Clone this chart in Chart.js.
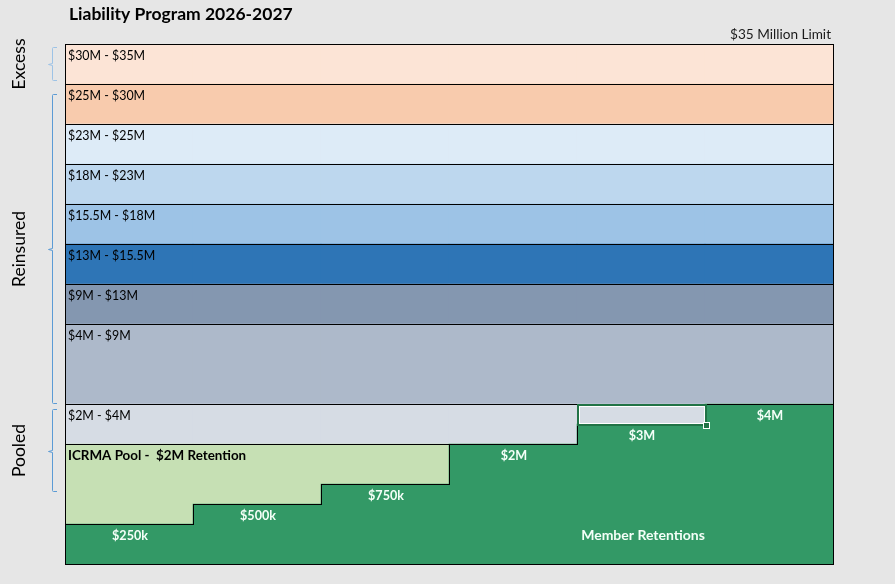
<!DOCTYPE html>
<html><head><meta charset="utf-8">
<script src="https://cdn.jsdelivr.net/npm/chart.js@4"></script>
<style>
html,body{margin:0;padding:0;background:#e6e6e6;overflow:hidden}
#wrap{width:895px;height:584px;position:relative}
</style>
</head><body>
<div id="wrap"><canvas id="c"></canvas></div>
<script>
// ---- data ----
const tierColumns = ['Tier A','Tier B','Tier C','Tier D','Tier E','Tier F'];
const retentionLabels = ['$250k','$500k','$750k','$2M','$3M','$4M'];
// band heights in drawn row units (the program diagram is not to dollar scale)
const memberRetentions = [1, 1.5, 2, 3, 3.5, 4];
const icrmaPool        = [2, 1.5, 1, 0, 0, 0];
const layer2to4        = [1, 1, 1, 1, 0.5, 0];
const layer4to9        = [2, 2, 2, 2, 2, 2];
const layer9to13       = [1, 1, 1, 1, 1, 1];
const layer13to155     = [1, 1, 1, 1, 1, 1];
const layer155to18     = [1, 1, 1, 1, 1, 1];
const layer18to23      = [1, 1, 1, 1, 1, 1];
const layer23to25      = [1, 1, 1, 1, 1, 1];
const layer25to30      = [1, 1, 1, 1, 1, 1];
const layer30to35      = [1, 1, 1, 1, 1, 1];
const layerNames = ['Member Retentions','ICRMA Pool -  $2M Retention','$2M - $4M','$4M - $9M','$9M - $13M',
  '$13M - $15.5M','$15.5M - $18M','$18M - $23M','$23M - $25M','$25M - $30M','$30M - $35M'];
const layerColors = ['#339966','#c6e0b4','#d6dce4','#adb9ca','#8497b0','#2e75b6','#9dc3e6','#bdd7ee','#ddebf7','#f8cbad','#fce4d6'];
const groupNames = ['Excess','Reinsured','Pooled'];
const groupSpans = [[12.1, 12.925],[4.025, 11.75],[1.825, 3.875]];
const groupColors = ['#9dc3e6','#5b9bd5','#5b9bd5'];
const chartTitle = 'Liability Program 2026-2027';
const limitNote = '$35 Million Limit';
const yMax = 13;

const FONT = 'Lato, "Open Sans", sans-serif';
const layerValues = [memberRetentions, icrmaPool, layer2to4, layer4to9, layer9to13, layer13to155,
  layer155to18, layer18to23, layer23to25, layer25to30, layer30to35];

function barRect(b){
  const p = b.getProps(['x','y','base','width'], true);
  return {l: p.x - p.width/2, r: p.x + p.width/2, t: Math.min(p.y, p.base), b: Math.max(p.y, p.base)};
}
const px = v => Math.round(v) + 0.5;

const outlinePlugin = {
  id: 'outlines',
  beforeDraw(chart){
    const ctx = chart.ctx;
    ctx.save(); ctx.fillStyle = '#e6e6e6'; ctx.fillRect(0,0,chart.width,chart.height); ctx.restore();
  },
  afterDatasetsDraw(chart){
    const ctx = chart.ctx;
    ctx.save();
    ctx.strokeStyle = '#000'; ctx.lineWidth = 1; ctx.lineCap = 'square';
    chart.data.datasets.forEach((ds, di) => {
      const bars = chart.getDatasetMeta(di).data.map(barRect);
      ctx.beginPath();
      bars.forEach(r => {
        if (r.b - r.t < 0.5) return;
        ctx.moveTo(px(r.l), px(r.t)); ctx.lineTo(px(r.r), px(r.t));
        ctx.moveTo(px(r.l), px(r.b)); ctx.lineTo(px(r.r), px(r.b));
      });
      for (let i = 0; i <= bars.length; i++){
        const A = i > 0 ? bars[i-1] : null, B = i < bars.length ? bars[i] : null;
        const x = B ? B.l : A.r;
        const aOk = A && A.b - A.t >= 0.5, bOk = B && B.b - B.t >= 0.5;
        const pts = [];
        if (aOk) pts.push(A.t, A.b);
        if (bOk) pts.push(B.t, B.b);
        pts.sort((m,n)=>m-n);
        for (let k = 0; k < pts.length - 1; k++){
          const p = pts[k], q = pts[k+1];
          if (q - p < 0.5) continue;
          const mid = (p+q)/2;
          const inA = aOk && A.t < mid && mid < A.b;
          const inB = bOk && B.t < mid && mid < B.b;
          if (inA !== inB){ ctx.moveTo(px(x), px(p)); ctx.lineTo(px(x), px(q)); }
        }
      }
      ctx.stroke();
    });
    // selected cell highlight on the partial $2M-$4M block
    const sel = barRect(chart.getDatasetMeta(2).data[4]);
    const L = Math.round(sel.l), T = Math.round(sel.t), R = Math.round(sel.r), Bt = Math.round(sel.b);
    ctx.lineCap = 'butt';
    ctx.strokeStyle = '#217346'; ctx.lineWidth = 2;
    ctx.strokeRect(L + 1, T + 1, R - L, Bt - T);
    ctx.strokeStyle = '#ffffff'; ctx.lineWidth = 1;
    ctx.strokeRect(L + 2.5, T + 2.5, R - L - 3, Bt - T - 3);
    ctx.fillStyle = '#ffffff'; ctx.fillRect(R - 2, Bt - 2, 7, 7);
    ctx.fillStyle = '#217346'; ctx.fillRect(R - 1, Bt - 1, 5, 5);
    ctx.restore();
  },
  afterDraw(chart){
    const ctx = chart.ctx, ca = chart.chartArea, ys = chart.scales.y;
    ctx.save();
    ctx.textBaseline = 'middle';
    // band labels
    for (let di = 1; di < layerNames.length; di++){
      const bars = chart.getDatasetMeta(di).data.map(barRect);
      const r = bars[0];
      ctx.fillStyle = '#000';
      ctx.font = (di === 1 ? 'bold 13.4px ' : '12.4px ') + FONT;
      ctx.textAlign = 'left';
      ctx.fillText(layerNames[di], r.l + 3, r.t + 11.5);
    }
    // member retention labels
    const greens = chart.getDatasetMeta(0).data.map(barRect);
    ctx.fillStyle = '#f4fff8'; ctx.font = 'bold 12.6px ' + FONT; ctx.textAlign = 'center';
    greens.forEach((r, i) => ctx.fillText(retentionLabels[i], (r.l + r.r)/2 + 1, r.t + 11.5));
    ctx.font = 'bold 14px ' + FONT;
    ctx.fillText(layerNames[0], (greens[4].l + greens[4].r)/2 + 2, ys.getPixelForValue(memberRetentions[0]) + 11.5);
    // title & limit
    ctx.fillStyle = '#000'; ctx.textAlign = 'left'; ctx.font = 'bold 17.5px ' + FONT;
    ctx.fillText(chartTitle, ca.left + 4, 14);
    ctx.fillStyle = '#1a1a1a'; ctx.textAlign = 'right'; ctx.font = '13.6px ' + FONT;
    ctx.fillText(limitNote, ca.right - 2, ca.top - 9);
    // group brackets and labels
    groupNames.forEach((g, i) => {
      const top = Math.round(ys.getPixelForValue(groupSpans[i][1])) + 0.5;
      const bot = Math.round(ys.getPixelForValue(groupSpans[i][0])) + 0.5;
      const mid = Math.round((top + bot)/2) + 0.5;
      const xl = ca.left - 12.5;
      ctx.strokeStyle = groupColors[i]; ctx.lineWidth = 1;
      ctx.beginPath();
      ctx.moveTo(xl + 4.5, top); ctx.lineTo(xl + 1, top); ctx.quadraticCurveTo(xl, top, xl, top + 1);
      ctx.lineTo(xl, mid - 1); ctx.lineTo(xl - 4, mid); ctx.lineTo(xl, mid + 1);
      ctx.lineTo(xl, bot - 1); ctx.quadraticCurveTo(xl, bot, xl + 1, bot); ctx.lineTo(xl + 4.5, bot);
      ctx.stroke();
      ctx.save();
      ctx.translate(19.5, (top + bot)/2);
      ctx.rotate(-Math.PI/2);
      ctx.fillStyle = '#000'; ctx.textAlign = 'center'; ctx.font = '17.5px ' + FONT;
      ctx.fillText(g, 0, 0);
      ctx.restore();
    });
    ctx.restore();
  }
};

new Chart(document.getElementById('c'), {
  type: 'bar',
  data: {
    labels: tierColumns,
    datasets: layerValues.map((vals, i) => ({
      label: layerNames[i],
      data: vals,
      backgroundColor: layerColors[i],
      borderWidth: 0,
      categoryPercentage: 1,
      barPercentage: 1
    }))
  },
  options: {
    responsive: true,
    maintainAspectRatio: false,
    animation: false,
    layout: {padding: {left: 65, right: 62, top: 44, bottom: 20}},
    plugins: {legend: {display: false}, tooltip: {enabled: false}, title: {display: false}},
    scales: {
      x: {display: false, stacked: true},
      y: {display: false, stacked: true, min: 0, max: yMax}
    }
  },
  plugins: [outlinePlugin]
});
</script>
</body></html>
